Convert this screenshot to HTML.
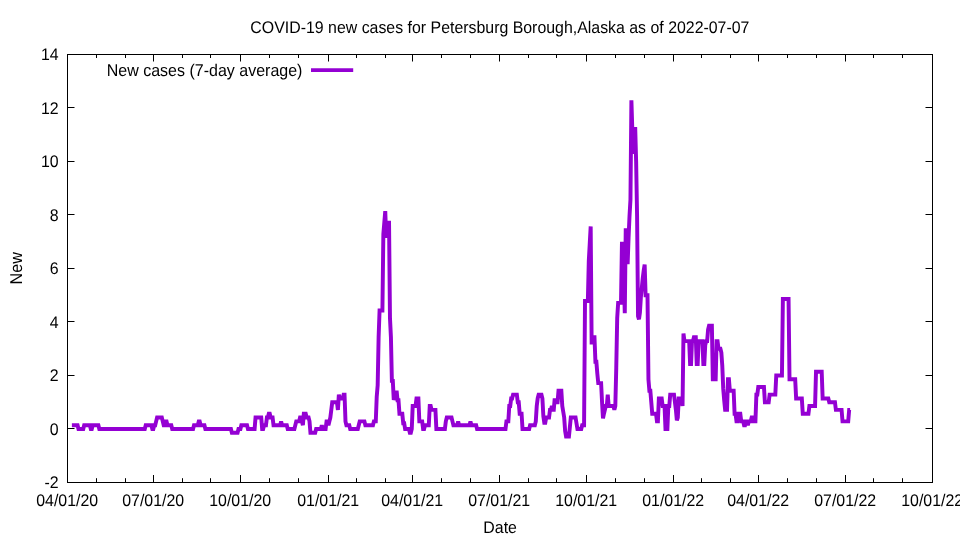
<!DOCTYPE html><html><head><meta charset="utf-8"><title>COVID-19 new cases for Petersburg Borough, Alaska</title><style>html,body{margin:0;padding:0;background:#fff;width:960px;height:540px;overflow:hidden}</style></head><body><svg width="960" height="540" viewBox="0 0 960 540" style="display:block">
<rect width="960" height="540" fill="#fff"/>
<polyline points="71.88,425.18 72.82,425.18 73.77,425.18 74.72,425.18 75.66,425.18 76.61,425.18 77.56,425.18 78.50,429.00 79.45,429.00 80.40,429.00 81.34,429.00 82.29,429.00 83.24,429.00 84.18,425.18 85.13,425.18 86.08,425.18 87.02,425.18 87.97,425.18 88.92,425.18 89.86,425.18 90.81,429.00 91.76,429.00 92.70,425.18 93.65,425.18 94.60,425.18 95.54,425.18 96.49,425.18 97.44,425.18 98.38,425.18 99.33,429.00 100.28,429.00 101.22,429.00 102.17,429.00 103.12,429.00 104.06,429.00 105.01,429.00 105.96,429.00 106.90,429.00 107.85,429.00 108.80,429.00 109.75,429.00 110.69,429.00 111.64,429.00 112.59,429.00 113.53,429.00 114.48,429.00 115.43,429.00 116.37,429.00 117.32,429.00 118.27,429.00 119.21,429.00 120.16,429.00 121.11,429.00 122.05,429.00 123.00,429.00 123.95,429.00 124.89,429.00 125.84,429.00 126.79,429.00 127.73,429.00 128.68,429.00 129.63,429.00 130.57,429.00 131.52,429.00 132.47,429.00 133.41,429.00 134.36,429.00 135.31,429.00 136.25,429.00 137.20,429.00 138.15,429.00 139.09,429.00 140.04,429.00 140.99,429.00 141.93,429.00 142.88,429.00 143.83,429.00 144.77,429.00 145.72,425.18 146.67,425.18 147.62,425.18 148.56,425.18 149.51,425.18 150.46,425.18 151.40,425.18 152.35,429.00 153.30,429.00 154.24,425.18 155.19,425.18 156.14,421.36 157.08,417.54 158.03,417.54 158.98,417.54 159.92,417.54 160.87,417.54 161.82,417.54 162.76,421.36 163.71,425.18 164.66,425.18 165.60,421.36 166.55,421.36 167.50,425.18 168.44,425.18 169.39,425.18 170.34,425.18 171.28,425.18 172.23,429.00 173.18,429.00 174.12,429.00 175.07,429.00 176.02,429.00 176.96,429.00 177.91,429.00 178.86,429.00 179.80,429.00 180.75,429.00 181.70,429.00 182.64,429.00 183.59,429.00 184.54,429.00 185.49,429.00 186.43,429.00 187.38,429.00 188.33,429.00 189.27,429.00 190.22,429.00 191.17,429.00 192.11,429.00 193.06,429.00 194.01,425.18 194.95,425.18 195.90,425.18 196.85,425.18 197.79,425.18 198.74,421.36 199.69,421.36 200.63,425.18 201.58,425.18 202.53,425.18 203.47,425.18 204.42,425.18 205.37,429.00 206.31,429.00 207.26,429.00 208.21,429.00 209.15,429.00 210.10,429.00 211.05,429.00 211.99,429.00 212.94,429.00 213.89,429.00 214.83,429.00 215.78,429.00 216.73,429.00 217.67,429.00 218.62,429.00 219.57,429.00 220.51,429.00 221.46,429.00 222.41,429.00 223.35,429.00 224.30,429.00 225.25,429.00 226.20,429.00 227.14,429.00 228.09,429.00 229.04,429.00 229.98,429.00 230.93,429.00 231.88,432.82 232.82,432.82 233.77,432.82 234.72,432.82 235.66,432.82 236.61,432.82 237.56,432.82 238.50,429.00 239.45,429.00 240.40,429.00 241.34,425.18 242.29,425.18 243.24,425.18 244.18,425.18 245.13,425.18 246.08,425.18 247.02,425.18 247.97,429.00 248.92,429.00 249.86,429.00 250.81,429.00 251.76,429.00 252.70,429.00 253.65,429.00 254.60,429.00 255.54,417.54 256.49,417.54 257.44,417.54 258.38,417.54 259.33,417.54 260.28,417.54 261.23,417.54 262.17,429.00 263.12,429.00 264.07,425.18 265.01,425.18 265.96,425.18 266.91,417.54 267.85,417.54 268.80,413.71 269.75,413.71 270.69,417.54 271.64,417.54 272.59,417.54 273.53,425.18 274.48,425.18 275.43,425.18 276.37,425.18 277.32,425.18 278.27,425.18 279.21,425.18 280.16,425.18 281.11,421.36 282.05,425.18 283.00,425.18 283.95,425.18 284.89,425.18 285.84,425.18 286.79,425.18 287.73,429.00 288.68,429.00 289.63,429.00 290.57,429.00 291.52,429.00 292.47,429.00 293.41,429.00 294.36,429.00 295.31,425.18 296.25,421.36 297.20,421.36 298.15,421.36 299.10,421.36 300.04,417.54 300.99,417.54 301.94,421.36 302.88,425.18 303.83,413.71 304.78,413.71 305.72,413.71 306.67,417.54 307.62,417.54 308.56,417.54 309.51,421.36 310.46,432.82 311.40,432.82 312.35,432.82 313.30,432.82 314.24,432.82 315.19,432.82 316.14,429.00 317.08,429.00 318.03,429.00 318.98,429.00 319.92,429.00 320.87,429.00 321.82,425.18 322.76,429.00 323.71,429.00 324.66,429.00 325.60,429.00 326.55,421.36 327.50,421.36 328.44,425.18 329.39,421.36 330.34,417.54 331.28,409.89 332.23,402.25 333.18,402.25 334.12,402.25 335.07,402.25 336.02,402.25 336.96,402.25 337.91,409.89 338.86,394.61 339.81,398.43 340.75,398.43 341.70,398.43 342.65,398.43 343.59,394.61 344.54,394.61 345.49,421.36 346.43,425.18 347.38,425.18 348.33,425.18 349.27,425.18 350.22,429.00 351.17,429.00 352.11,429.00 353.06,429.00 354.01,429.00 354.95,429.00 355.90,429.00 356.85,429.00 357.79,429.00 358.74,425.18 359.69,421.36 360.63,421.36 361.58,421.36 362.53,421.36 363.47,421.36 364.42,421.36 365.37,425.18 366.31,425.18 367.26,425.18 368.21,425.18 369.15,425.18 370.10,425.18 371.05,425.18 371.99,425.18 372.94,425.18 373.89,421.36 374.83,421.36 375.78,421.36 376.73,396.52 377.68,385.05 378.62,337.29 379.57,310.54 380.52,310.54 381.46,310.54 382.41,310.54 383.36,234.11 384.30,222.64 385.25,211.18 386.20,237.93 387.14,222.64 388.09,222.64 389.04,222.64 389.98,318.18 390.93,337.29 391.88,380.85 392.82,380.85 393.77,399.96 394.72,397.28 395.66,394.61 396.61,390.79 397.56,400.34 398.50,400.34 399.45,413.71 400.40,413.71 401.34,413.71 402.29,413.71 403.24,423.27 404.18,423.27 405.13,429.00 406.08,429.00 407.02,429.00 407.97,429.00 408.92,429.00 409.86,432.82 410.81,432.82 411.76,429.00 412.70,406.07 413.65,406.07 414.60,406.07 415.55,406.07 416.49,398.43 417.44,398.43 418.39,398.43 419.33,421.36 420.28,421.36 421.23,421.36 422.17,421.36 423.12,429.00 424.07,429.00 425.01,425.18 425.96,425.18 426.91,425.18 427.85,425.18 428.80,425.18 429.75,406.07 430.69,406.07 431.64,409.89 432.59,409.89 433.53,409.89 434.48,409.89 435.43,409.89 436.37,429.00 437.32,429.00 438.27,429.00 439.21,429.00 440.16,429.00 441.11,429.00 442.05,429.00 443.00,429.00 443.95,429.00 444.89,429.00 445.84,421.36 446.79,417.54 447.73,417.54 448.68,417.54 449.63,417.54 450.57,417.54 451.52,417.54 452.47,421.36 453.42,425.18 454.36,425.18 455.31,425.18 456.26,425.18 457.20,425.18 458.15,421.36 459.10,425.18 460.04,425.18 460.99,425.18 461.94,425.18 462.88,425.18 463.83,425.18 464.78,425.18 465.72,425.18 466.67,425.18 467.62,425.18 468.56,425.18 469.51,425.18 470.46,421.36 471.40,425.18 472.35,425.18 473.30,425.18 474.24,425.18 475.19,425.18 476.14,425.18 477.08,429.00 478.03,429.00 478.98,429.00 479.92,429.00 480.87,429.00 481.82,429.00 482.76,429.00 483.71,429.00 484.66,429.00 485.60,429.00 486.55,429.00 487.50,429.00 488.44,429.00 489.39,429.00 490.34,429.00 491.29,429.00 492.23,429.00 493.18,429.00 494.13,429.00 495.07,429.00 496.02,429.00 496.97,429.00 497.91,429.00 498.86,429.00 499.81,429.00 500.75,429.00 501.70,429.00 502.65,429.00 503.59,429.00 504.54,429.00 505.49,429.00 506.43,421.36 507.38,421.36 508.33,421.36 509.27,406.07 510.22,406.07 511.17,398.43 512.11,398.43 513.06,394.61 514.01,394.61 514.95,394.61 515.90,394.61 516.85,394.61 517.79,402.25 518.74,402.25 519.69,413.71 520.63,413.71 521.58,413.71 522.53,429.00 523.47,429.00 524.42,429.00 525.37,429.00 526.32,429.00 527.26,429.00 528.21,429.00 529.16,429.00 530.10,425.18 531.05,425.18 532.00,425.18 532.94,425.18 533.89,425.18 534.84,425.18 535.78,421.36 536.73,406.07 537.68,398.43 538.62,394.61 539.57,394.61 540.52,394.61 541.46,394.61 542.41,398.43 543.36,416.39 544.30,422.89 545.25,422.89 546.20,417.54 547.14,417.54 548.09,417.54 549.04,417.54 549.98,409.89 550.93,409.89 551.88,406.07 552.82,409.89 553.77,409.89 554.72,398.43 555.66,402.25 556.61,402.25 557.56,402.25 558.50,390.79 559.45,390.79 560.40,390.79 561.34,390.79 562.29,406.07 563.24,411.80 564.18,417.54 565.13,430.91 566.08,436.64 567.03,436.64 567.97,436.64 568.92,436.64 569.87,427.09 570.81,417.54 571.76,417.54 572.71,417.54 573.65,417.54 574.60,417.54 575.55,417.54 576.49,423.27 577.44,429.00 578.39,429.00 579.33,429.00 580.28,429.00 581.23,429.00 582.17,425.18 583.12,425.18 584.07,425.18 585.01,300.98 585.96,300.98 586.91,300.98 587.85,300.98 588.80,260.86 589.75,243.66 590.69,226.46 591.64,342.64 592.59,342.64 593.53,337.29 594.48,337.29 595.43,361.74 596.37,361.74 597.32,373.59 598.27,383.14 599.21,383.14 600.16,383.14 601.11,383.14 602.05,402.25 603.00,418.49 603.95,413.71 604.90,409.89 605.84,406.07 606.79,406.07 607.74,394.61 608.68,406.07 609.63,406.07 610.58,406.07 611.52,406.07 612.47,406.07 613.42,406.07 614.36,409.89 615.31,406.07 616.26,367.86 617.20,318.18 618.15,302.89 619.10,302.89 620.04,302.89 620.99,302.89 621.94,243.66 622.88,243.66 623.83,276.14 624.78,313.21 625.72,230.29 626.67,230.29 627.62,264.30 628.56,237.93 629.51,216.15 630.46,199.71 631.40,100.36 632.35,130.93 633.30,153.86 634.24,142.39 635.19,127.11 636.14,161.50 637.08,216.15 638.03,316.27 638.98,319.32 639.92,312.45 640.87,297.16 641.82,287.61 642.77,278.05 643.71,270.41 644.66,264.68 645.61,295.25 646.55,295.25 647.50,295.25 648.45,379.32 649.39,390.79 650.34,390.79 651.29,402.25 652.23,413.71 653.18,413.71 654.13,413.71 655.07,413.71 656.02,413.71 656.97,421.36 657.91,421.36 658.86,398.43 659.81,398.43 660.75,398.43 661.70,398.43 662.65,406.07 663.59,406.07 664.54,406.07 665.49,429.00 666.43,429.00 667.38,429.00 668.33,406.07 669.27,406.07 670.22,394.61 671.17,394.61 672.11,394.61 673.06,394.61 674.01,394.61 674.95,402.25 675.90,409.89 676.85,420.40 677.79,417.54 678.74,398.43 679.69,398.43 680.64,398.43 681.58,398.43 682.53,406.07 683.48,333.46 684.42,341.11 685.37,341.11 686.32,341.11 687.26,341.11 688.21,341.11 689.16,341.11 690.10,364.04 691.05,364.04 692.00,341.11 692.94,341.11 693.89,337.29 694.84,337.29 695.78,337.29 696.73,364.04 697.68,364.04 698.62,341.11 699.57,341.11 700.52,341.11 701.46,341.11 702.41,341.11 703.36,364.04 704.30,364.04 705.25,344.93 706.20,341.11 707.14,341.11 708.09,329.64 709.04,325.82 709.98,325.82 710.93,325.82 711.88,325.82 712.82,379.32 713.77,379.32 714.72,379.32 715.66,379.32 716.61,341.11 717.56,341.11 718.51,348.75 719.45,348.75 720.40,348.75 721.35,352.57 722.29,365.95 723.24,388.88 724.19,400.34 725.13,409.89 726.08,409.89 727.03,409.89 727.97,379.32 728.92,379.32 729.87,390.79 730.81,390.79 731.76,390.79 732.71,390.79 733.65,390.79 734.60,413.71 735.55,413.71 736.49,421.36 737.44,421.36 738.39,413.71 739.33,413.71 740.28,413.71 741.23,421.36 742.17,421.36 743.12,421.36 744.07,425.18 745.01,425.18 745.96,421.36 746.91,421.36 747.85,425.18 748.80,421.36 749.75,421.36 750.69,421.36 751.64,417.54 752.59,417.54 753.53,421.36 754.48,421.36 755.43,421.36 756.38,394.61 757.32,394.61 758.27,386.96 759.22,386.96 760.16,386.96 761.11,386.96 762.06,386.96 763.00,386.96 763.95,386.96 764.90,402.25 765.84,402.25 766.79,402.25 767.74,402.25 768.68,402.25 769.63,394.61 770.58,394.61 771.52,394.61 772.47,394.61 773.42,394.61 774.36,394.61 775.31,394.61 776.26,375.50 777.20,375.50 778.15,375.50 779.10,375.50 780.04,375.50 780.99,375.50 781.94,375.50 782.88,299.07 783.83,299.07 784.78,299.07 785.72,299.07 786.67,299.07 787.62,299.07 788.56,299.07 789.51,379.32 790.46,379.32 791.40,379.32 792.35,379.32 793.30,379.32 794.25,379.32 795.19,379.32 796.14,398.43 797.09,398.43 798.03,398.43 798.98,398.43 799.93,398.43 800.87,398.43 801.82,398.43 802.77,413.71 803.71,413.71 804.66,413.71 805.61,413.71 806.55,413.71 807.50,413.71 808.45,413.71 809.39,406.07 810.34,406.07 811.29,406.07 812.23,406.07 813.18,406.07 814.13,406.07 815.07,406.07 816.02,371.68 816.97,371.68 817.91,371.68 818.86,371.68 819.81,371.68 820.75,371.68 821.70,371.68 822.65,398.43 823.59,398.43 824.54,398.43 825.49,398.43 826.43,398.43 827.38,398.43 828.33,398.43 829.27,402.25 830.22,402.25 831.17,402.25 832.12,402.25 833.06,402.25 834.01,402.25 834.96,402.25 835.90,409.89 836.85,409.89 837.80,409.89 838.74,409.89 839.69,409.89 840.64,409.89 841.58,409.89 842.53,421.36 843.48,421.36 844.42,421.36 845.37,421.36 846.32,421.36 847.26,421.36 848.21,421.36 849.16,409.89 850.10,409.89" fill="none" stroke="#9400d3" stroke-width="3.94" stroke-linejoin="miter" stroke-miterlimit="3.8" stroke-linecap="butt"/>
<line x1="311" x2="353.2" y1="70.1" y2="70.1" stroke="#9400d3" stroke-width="3.94"/>
<rect x="67.5" y="54.5" width="865.0" height="428.0" fill="none" stroke="#000" stroke-width="1"/>
<g stroke="#000" stroke-width="1" fill="none"><path d="M67.5 482.5h7M932.5 482.5h-7M67.5 428.5h7M932.5 428.5h-7M67.5 375.5h7M932.5 375.5h-7M67.5 321.5h7M932.5 321.5h-7M67.5 268.5h7M932.5 268.5h-7M67.5 214.5h7M932.5 214.5h-7M67.5 161.5h7M932.5 161.5h-7M67.5 107.5h7M932.5 107.5h-7M67.5 54.5h7M932.5 54.5h-7M67.5 482.5v-7.5M67.5 54.5v7M153.5 482.5v-7.5M153.5 54.5v7M240.5 482.5v-7.5M240.5 54.5v7M328.5 482.5v-7.5M328.5 54.5v7M412.5 482.5v-7.5M412.5 54.5v7M499.5 482.5v-7.5M499.5 54.5v7M586.5 482.5v-7.5M586.5 54.5v7M673.5 482.5v-7.5M673.5 54.5v7M758.5 482.5v-7.5M758.5 54.5v7M845.5 482.5v-7.5M845.5 54.5v7M932.5 482.5v-7.5M932.5 54.5v7M96.5 482.5v-4.3M96.5 54.5v3.5M125.5 482.5v-4.3M125.5 54.5v3.5M182.5 482.5v-4.3M182.5 54.5v3.5M210.5 482.5v-4.3M210.5 54.5v3.5M269.5 482.5v-4.3M269.5 54.5v3.5M298.5 482.5v-4.3M298.5 54.5v3.5M356.5 482.5v-4.3M356.5 54.5v3.5M385.5 482.5v-4.3M385.5 54.5v3.5M441.5 482.5v-4.3M441.5 54.5v3.5M470.5 482.5v-4.3M470.5 54.5v3.5M528.5 482.5v-4.3M528.5 54.5v3.5M556.5 482.5v-4.3M556.5 54.5v3.5M615.5 482.5v-4.3M615.5 54.5v3.5M644.5 482.5v-4.3M644.5 54.5v3.5M701.5 482.5v-4.3M701.5 54.5v3.5M730.5 482.5v-4.3M730.5 54.5v3.5M787.5 482.5v-4.3M787.5 54.5v3.5M816.5 482.5v-4.3M816.5 54.5v3.5M873.5 482.5v-4.3M873.5 54.5v3.5M902.5 482.5v-4.3M902.5 54.5v3.5"/></g>
<g font-family="'Liberation Sans', Arial, sans-serif" font-size="15.9" fill="#000" text-rendering="geometricPrecision"><text transform="translate(58.6,488.1) scale(1,1.06)" text-anchor="end">-2</text><text transform="translate(58.6,434.6) scale(1,1.06)" text-anchor="end">0</text><text transform="translate(58.6,381.1) scale(1,1.06)" text-anchor="end">2</text><text transform="translate(58.6,327.6) scale(1,1.06)" text-anchor="end">4</text><text transform="translate(58.6,274.1) scale(1,1.06)" text-anchor="end">6</text><text transform="translate(58.6,220.6) scale(1,1.06)" text-anchor="end">8</text><text transform="translate(58.6,167.1) scale(1,1.06)" text-anchor="end">10</text><text transform="translate(58.6,113.6) scale(1,1.06)" text-anchor="end">12</text><text transform="translate(58.6,60.1) scale(1,1.06)" text-anchor="end">14</text><text transform="translate(67.2,506) scale(1,1.06)" text-anchor="middle">04/01/20</text><text transform="translate(153.2,506) scale(1,1.06)" text-anchor="middle">07/01/20</text><text transform="translate(240.2,506) scale(1,1.06)" text-anchor="middle">10/01/20</text><text transform="translate(328.2,506) scale(1,1.06)" text-anchor="middle">01/01/21</text><text transform="translate(412.2,506) scale(1,1.06)" text-anchor="middle">04/01/21</text><text transform="translate(499.2,506) scale(1,1.06)" text-anchor="middle">07/01/21</text><text transform="translate(586.2,506) scale(1,1.06)" text-anchor="middle">10/01/21</text><text transform="translate(673.2,506) scale(1,1.06)" text-anchor="middle">01/01/22</text><text transform="translate(758.2,506) scale(1,1.06)" text-anchor="middle">04/01/22</text><text transform="translate(845.2,506) scale(1,1.06)" text-anchor="middle">07/01/22</text><text transform="translate(932.2,506) scale(1,1.06)" text-anchor="middle">10/01/22</text><text transform="translate(499.9,32.7) scale(1,1.06)" text-anchor="middle">COVID-19 new cases for Petersburg Borough,Alaska as of 2022-07-07</text><text transform="translate(500.1,532.8) scale(1,1.06)" text-anchor="middle">Date</text><text transform="translate(302.4,76) scale(1,1.06)" text-anchor="end" font-size="16">New cases (7-day average)</text><text transform="translate(22,268.2) rotate(-90) scale(1,1.06)" text-anchor="middle" font-size="16.2">New</text></g>
</svg></body></html>
